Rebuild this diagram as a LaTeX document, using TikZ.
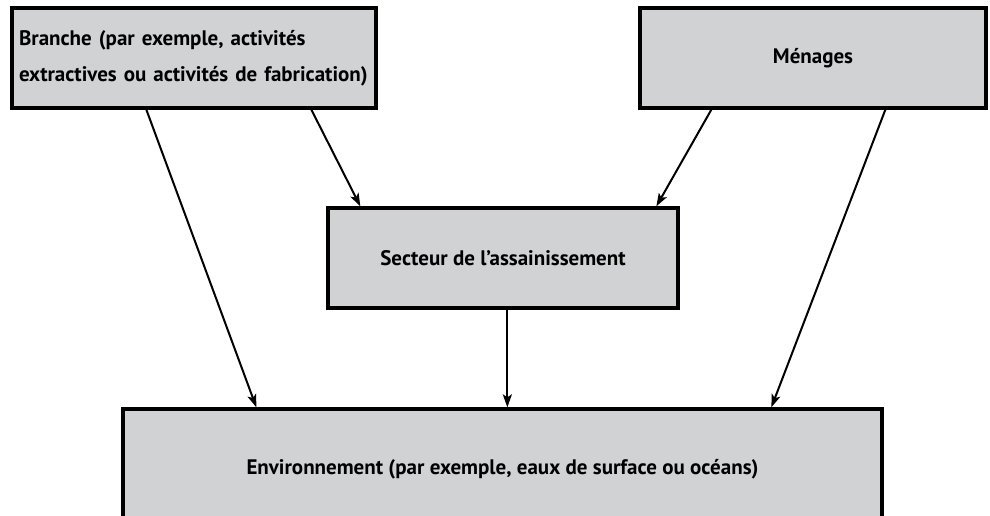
\documentclass[tikz,border=0pt]{standalone}
\usepackage{fontspec}
\setmainfont{PT Sans}
\usetikzlibrary{arrows.meta,calc}
\definecolor{boxgray}{HTML}{D1D2D4}
\begin{document}
\begin{tikzpicture}[x=1pt,y=1pt,
  boxnode/.style={draw=black,line width=3.3pt,fill=boxgray,inner sep=0pt,font=\fontsize{21}{29}\selectfont\bfseries},
  arr/.style={line width=2pt,-{Stealth[length=13pt,width=9pt,inset=3pt]}}]
\useasboundingbox (0,0) rectangle (990,-516);
\node[boxnode,minimum width=364pt,minimum height=100pt,text width=350pt,align=left] (branche) at (194,-58) {\vspace*{7pt}Branche (par exemple, activités\\extractives ou activités de fabrication)};
\node[boxnode,minimum width=346pt,minimum height=100pt] (menages) at (813,-58) {Ménages};
\node[boxnode,minimum width=350pt,minimum height=100pt] (secteur) at (503,-258) {Secteur de l’assainissement};
\node[boxnode,minimum width=759pt,minimum height=140pt,font=\fontsize{21}{24}\selectfont\bfseries] (env) at (502.5,-479) {\raisebox{24pt}{Environnement (par exemple, eaux de surface ou océans)}};
\coordinate (b1) at ($(branche.south west)+(136,0)$);
\coordinate (b2) at ($(branche.south west)+(301,0)$);
\coordinate (m1) at ($(menages.south west)+(73,0)$);
\coordinate (m2) at ($(menages.south west)+(247,0)$);
\coordinate (s1) at ($(secteur.north west)+(34,0)$);
\coordinate (s2) at ($(secteur.north west)+(330,0)$);
\coordinate (s3) at ($(secteur.south west)+(181,0)$);
\coordinate (e1) at ($(env.north west)+(135,0)$);
\coordinate (e2) at ($(env.north west)+(386,0)$);
\coordinate (e3) at ($(env.north west)+(650,0)$);
\draw[arr] (b1) -- (e1);
\draw[arr] (b2) -- (s1);
\draw[arr] (m1) -- (s2);
\draw[arr] (m2) -- (e3);
\draw[arr] (s3) -- (e2);
\end{tikzpicture}
\end{document}
